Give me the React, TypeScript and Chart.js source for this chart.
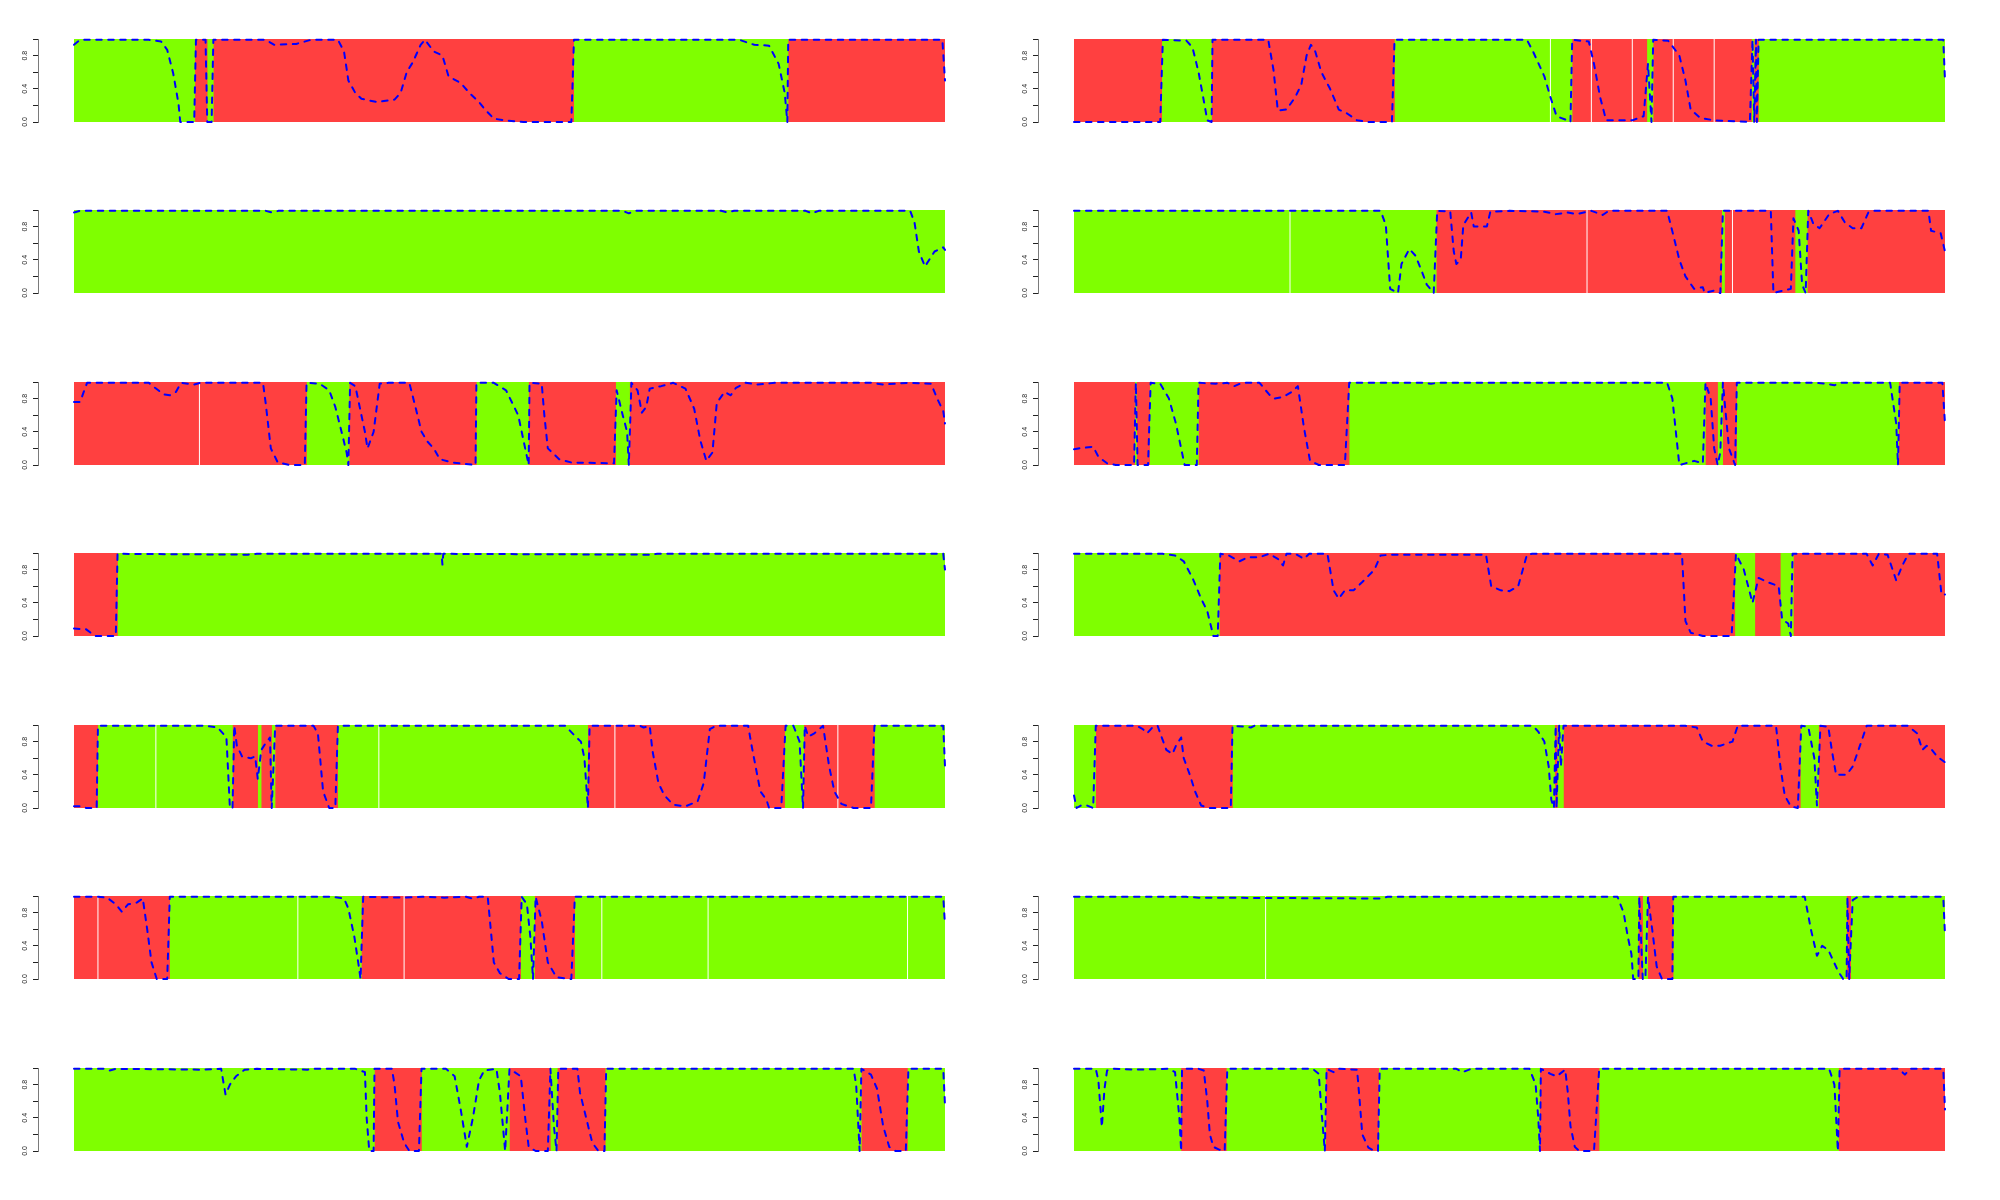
import React, { useEffect, useRef } from 'react';
import { Chart, registerables } from 'chart.js';
Chart.register(...registerables);

const GREEN = '#7FFF00';
const RED = '#FF4040';
const CURVE_COLOR = '#0000FF';
const AXIS_COLOR = '#7A7A7A';
const TICK_COLOR = '#222222';

// ---- Row 1 left ----
const A1_BREAKS = [0, 13.9, 15.3, 16.0, 57.4, 82.0, 100];
const A1_STATES = ['G', 'R', 'G', 'R', 'G', 'R'];
const A1_SEPS: number[] = [];
const A1_CURVE = [[0,0.93],[0.7,0.99],[8.6,0.99],[10,0.97],[10.7,0.87],[11.4,0.58],[12,0.22],[12.2,0],[13.8,0],[14,0.99],[15.1,0.99],[15.3,0],[15.8,0],[16,0.99],[21.3,0.99],[22,0.99],[23,0.93],[25.5,0.94],[27.2,0.99],[30.3,0.99],[31,0.85],[31.5,0.5],[32.3,0.35],[33,0.28],[34.8,0.24],[36.8,0.27],[37.5,0.35],[38.2,0.6],[38.9,0.72],[39.8,0.93],[40.3,0.99],[41.3,0.85],[42.3,0.8],[43,0.55],[44.4,0.47],[45.4,0.35],[46.5,0.24],[47.2,0.15],[48.2,0.04],[49.5,0.02],[51.6,0],[57.1,0],[57.4,0.99],[76.4,0.99],[78.1,0.93],[79.8,0.92],[80.9,0.7],[81.6,0.35],[81.9,0],[82,0.99],[99.7,0.99],[100,0.5]];

// ---- Row 1 right ----
const B1_BREAKS = [0, 10.1, 15.8, 36.8, 57.2, 65.8, 66.5, 77.8, 78.1, 78.6, 100];
const B1_STATES = ['R', 'G', 'R', 'G', 'R', 'G', 'R', 'G', 'R', 'G'];
const B1_SEPS = [54.7, 59.4, 64.1, 68.8, 73.5];
const B1_CURVE = [[0,0],[9.9,0],[10.2,0.99],[12.9,0.98],[13.6,0.9],[14.3,0.6],[15,0.2],[15.3,0.02],[15.8,0],[15.9,0.99],[22.3,0.99],[22.9,0.63],[23.4,0.14],[24.4,0.15],[25.4,0.3],[26.1,0.45],[26.7,0.8],[27.2,0.93],[27.7,0.85],[28.4,0.6],[29.4,0.4],[30.4,0.15],[31.4,0.1],[32.5,0.02],[33.8,0],[36.5,0],[36.8,0.99],[52,0.99],[52.7,0.85],[54,0.55],[54.7,0.3],[55.4,0.07],[56.4,0.03],[57,0],[57.2,0.99],[59.1,0.97],[59.7,0.7],[60.4,0.3],[61.1,0.02],[64.1,0.02],[65.4,0.07],[65.9,0.7],[66.3,0],[66.5,0.99],[68.2,0.98],[68.8,0.9],[69.5,0.8],[70.2,0.5],[70.8,0.15],[71.9,0.05],[73.5,0.02],[77.6,0],[77.9,0.99],[78.1,0],[78.3,0.99],[78.4,0],[78.6,0.99],[99.8,0.99],[100,0.5]];

// ---- Row 2 left ----
const A2_BREAKS = [0, 100];
const A2_STATES = ['G'];
const A2_SEPS: number[] = [];
const A2_CURVE = [[0,0.97],[0.7,0.99],[22,0.99],[22.7,0.97],[23.5,0.99],[63,0.99],[63.7,0.96],[64.5,0.99],[74.3,0.99],[75,0.97],[75.8,0.99],[84,0.99],[84.7,0.96],[85.5,0.99],[96,0.99],[96.5,0.85],[97,0.5],[97.7,0.32],[98.8,0.5],[99.8,0.55],[100,0.52]];

// ---- Row 2 right ----
const B2_BREAKS = [0, 41.6, 74.4, 74.7, 82.8, 84.2, 100];
const B2_STATES = ['G', 'R', 'G', 'R', 'G', 'R'];
const B2_SEPS = [24.8, 58.9, 75.6];
const B2_CURVE = [[0,0.99],[35.2,0.99],[35.8,0.82],[36.3,0.05],[37.2,0],[37.6,0.35],[38.5,0.53],[39.2,0.45],[39.9,0.27],[40.5,0.1],[41.3,0],[41.7,0.99],[43.2,0.98],[43.6,0.5],[43.9,0.35],[44.4,0.4],[44.7,0.82],[45.6,0.97],[45.9,0.8],[46.7,0.8],[47.4,0.8],[47.8,0.98],[50,0.99],[54,0.98],[55.3,0.95],[56.7,0.97],[57.7,0.95],[59.4,0.99],[60.7,0.94],[61.4,0.99],[68.1,0.99],[68.8,0.7],[69.5,0.4],[70.2,0.2],[71.2,0.05],[72.2,0.07],[72.4,0],[73.5,0.03],[74.2,0],[74.5,0.99],[80,0.99],[80.3,0],[82.3,0.05],[82.6,0.9],[83.2,0.75],[83.6,0.1],[84,0],[84.3,0.99],[84.9,0.83],[85.6,0.78],[86.7,0.95],[87.7,0.99],[88.5,0.85],[89.4,0.78],[90.4,0.78],[91.2,0.97],[91.7,0.99],[98.1,0.99],[98.4,0.75],[99.5,0.72],[100,0.5]];

// ---- Row 3 left ----
const A3_BREAKS = [0, 26.7, 31.6, 46.2, 52.2, 62.2, 63.8, 100];
const A3_STATES = ['R', 'G', 'R', 'G', 'R', 'G', 'R'];
const A3_SEPS = [14.4];
const A3_CURVE = [[0,0.76],[0.7,0.76],[1.5,0.99],[8.6,0.99],[9.3,0.93],[10.3,0.85],[11,0.84],[11.7,0.88],[12.3,0.99],[13.8,0.97],[14.5,0.99],[21.7,0.99],[22,0.75],[22.6,0.2],[23.4,0.03],[24.8,0],[26.5,0],[26.7,0.99],[28.2,0.98],[29.3,0.9],[30,0.7],[30.6,0.45],[31.3,0.15],[31.5,0],[31.7,0.99],[32.3,0.95],[33,0.6],[33.4,0.4],[33.7,0.2],[34.4,0.4],[35.1,0.98],[36.1,0.99],[38.5,0.99],[39.2,0.7],[39.9,0.4],[40.6,0.28],[41.3,0.2],[42,0.07],[43.4,0.03],[46.1,0],[46.2,0.99],[48.2,0.99],[49.6,0.9],[51,0.6],[51.6,0.3],[52.2,0],[52.3,0.99],[53.7,0.98],[54,0.6],[54.4,0.2],[55.7,0.07],[57.1,0.03],[62,0.02],[62.3,0.9],[63,0.6],[63.5,0.4],[63.7,0],[64,0.99],[64.7,0.9],[65.2,0.63],[65.7,0.7],[66.1,0.92],[67.4,0.95],[68.8,0.99],[70.2,0.92],[71.2,0.68],[71.9,0.3],[72.6,0.05],[73.3,0.15],[73.8,0.75],[74.7,0.88],[75.4,0.84],[76,0.93],[77.1,0.99],[78.5,0.97],[80.5,0.99],[91.5,0.99],[92.9,0.97],[94.3,0.98],[95.7,0.99],[98.4,0.98],[99.1,0.8],[99.8,0.65],[100,0.5]];

// ---- Row 3 right ----
const B3_BREAKS = [0, 7.0, 7.2, 8.7, 14.3, 31.6, 72.5, 73.9, 74.5, 76.1, 94.7, 100];
const B3_STATES = ['R', 'G', 'R', 'G', 'R', 'G', 'R', 'G', 'R', 'G', 'R'];
const B3_SEPS: number[] = [];
const B3_CURVE = [[0,0.19],[0.5,0.2],[2.2,0.22],[2.8,0.1],[3.8,0.02],[4.8,0],[6.9,0],[7.1,0.99],[7.3,0],[8.5,0],[8.8,0.99],[9.9,0.98],[10.9,0.8],[11.7,0.5],[12.3,0.2],[12.7,0],[14.1,0],[14.3,0.99],[16.3,0.98],[17.6,0.99],[18.4,0.95],[19.3,0.99],[21.3,0.99],[22.4,0.85],[23,0.8],[24,0.82],[25,0.88],[25.7,0.95],[26.4,0.45],[27.1,0.05],[28.1,0],[31.1,0],[31.6,0.99],[40,0.99],[41,0.98],[42,0.99],[68.1,0.99],[68.7,0.8],[69.2,0.3],[69.5,0],[70.2,0.02],[71.2,0.05],[72.2,0.02],[72.5,0.99],[73.1,0.8],[73.5,0.2],[73.9,0],[74.2,0.15],[74.5,0.99],[75.2,0.2],[75.9,0],[76.1,0.99],[85,0.99],[86.3,0.98],[87.3,0.96],[88,0.99],[93.7,0.99],[94.4,0.5],[94.6,0],[94.8,0.99],[99.7,0.99],[100,0.5]];

// ---- Row 4 left ----
const A4_BREAKS = [0, 5.0, 100];
const A4_STATES = ['R', 'G'];
const A4_SEPS: number[] = [];
const A4_CURVE = [[0,0.09],[1.4,0.08],[2.4,0],[4.8,0],[5.0,0.99],[20,0.98],[21,0.99],[42.2,0.99],[42.3,0.86],[42.4,0.99],[66,0.98],[67,0.99],[99.8,0.99],[100,0.8]];

// ---- Row 4 right ----
const B4_BREAKS = [0, 16.7, 75.9, 78.2, 81.1, 82.6, 100];
const B4_STATES = ['G', 'R', 'G', 'R', 'G', 'R'];
const B4_SEPS: number[] = [];
const B4_CURVE = [[0,0.99],[10.2,0.99],[11.6,0.97],[12.6,0.9],[13.6,0.7],[14.6,0.45],[15.3,0.3],[16,0],[16.5,0],[16.8,0.99],[17.6,0.98],[19,0.9],[20,0.95],[21.3,0.95],[22.4,0.99],[23.4,0.93],[24,0.85],[24.4,0.99],[25.4,0.99],[26.4,0.93],[27,0.99],[29.1,0.99],[29.8,0.55],[30.4,0.45],[31.1,0.55],[32.1,0.55],[33.1,0.65],[34.5,0.8],[35.2,0.97],[36.5,0.98],[45.9,0.98],[47.3,0.98],[47.9,0.6],[49,0.55],[50,0.54],[51,0.6],[52,0.98],[52.6,0.99],[69.8,0.99],[70.2,0.18],[70.8,0.04],[72.2,0],[75.5,0],[76,0.99],[76.9,0.8],[77.9,0.4],[78.6,0.7],[79.6,0.65],[80.9,0.6],[81.3,0.2],[82,0.15],[82.3,0],[82.5,0.99],[91,0.99],[91.7,0.85],[92.4,0.99],[93.4,0.98],[94.4,0.67],[95.1,0.85],[95.8,0.99],[99.1,0.99],[99.6,0.5],[100,0.5]];

// ---- Row 5 left ----
const A5_BREAKS = [0, 2.75, 18.2, 21.1, 21.5, 22.7, 23.1, 30.3, 59.0, 81.6, 83.8, 91.9, 100];
const A5_STATES = ['R', 'G', 'R', 'G', 'R', 'G', 'R', 'G', 'R', 'G', 'R', 'G'];
const A5_SEPS = [9.4, 35.0, 62.1, 87.7];
const A5_CURVE = [[0,0.02],[0.7,0.02],[1.4,0],[2.6,0],[2.75,0.99],[15.1,0.99],[16.5,0.97],[17.5,0.85],[17.9,0],[18.2,0],[18.4,0.99],[18.7,0.75],[19.3,0.62],[20.3,0.6],[20.8,0.62],[21.1,0.35],[21.5,0.7],[22,0.78],[22.5,0.85],[22.7,0],[23.1,0.99],[27.5,0.99],[28,0.9],[28.6,0.2],[29.3,0],[30,0],[30.3,0.99],[56.4,0.99],[57.5,0.87],[58.2,0.8],[58.6,0.6],[59,0],[59.2,0.99],[65,0.99],[65.4,0.97],[66.1,0.99],[66.4,0.7],[67.1,0.3],[67.8,0.15],[68.8,0.04],[70.2,0.02],[71.6,0.08],[72.3,0.3],[73,0.95],[73.7,0.99],[77.4,0.99],[77.8,0.75],[78.8,0.2],[79.5,0.1],[79.8,0],[81.2,0],[81.7,0.99],[82.6,0.99],[83.3,0.8],[83.7,0],[83.9,0.99],[84.3,0.86],[85,0.9],[86,0.99],[86.7,0.5],[87.3,0.2],[88.1,0.05],[89.5,0],[91.5,0],[91.9,0.99],[99.8,0.99],[100,0.5]];

// ---- Row 5 right ----
const B5_BREAKS = [0, 2.5, 18.2, 55.2, 55.5, 56.2, 83.4, 85.5, 100];
const B5_STATES = ['G', 'R', 'G', 'R', 'G', 'R', 'G', 'R'];
const B5_SEPS: number[] = [];
const B5_CURVE = [[0,0.15],[0.3,0],[0.8,0.03],[1.5,0.03],[2.2,0],[2.5,0.99],[7.2,0.99],[7.9,0.95],[8.4,0.9],[9,0.97],[9.6,0.99],[9.9,0.9],[10.6,0.7],[11.3,0.65],[11.7,0.75],[12.3,0.85],[12.6,0.6],[13.3,0.4],[13.9,0.2],[14.6,0.03],[15.6,0],[18,0],[18.2,0.99],[19.7,0.98],[20.3,0.97],[20.7,0.99],[52.7,0.99],[53.3,0.92],[54,0.8],[54.5,0.5],[54.8,0.1],[55.1,0],[55.3,0.99],[55.4,0],[55.7,0.99],[55.9,0.5],[56.2,0.99],[70.2,0.99],[71.5,0.97],[72.2,0.8],[73.2,0.75],[74.2,0.75],[75.6,0.8],[76.2,0.99],[80.6,0.99],[81.1,0.5],[81.6,0.15],[82.3,0.02],[83.1,0],[83.5,0.99],[84.3,0.98],[85,0.6],[85.3,0.03],[85.7,0.99],[86.6,0.98],[87,0.7],[87.5,0.4],[88.7,0.4],[89.4,0.5],[90.4,0.8],[91,0.99],[95.7,0.99],[96.8,0.9],[97.4,0.7],[97.9,0.75],[98.5,0.7],[99.1,0.62],[100,0.55]];

// ---- Row 6 left ----
const A6_BREAKS = [0, 11.0, 33.0, 51.3, 52.9, 57.5, 100];
const A6_STATES = ['R', 'G', 'R', 'G', 'R', 'G'];
const A6_SEPS = [2.75, 25.7, 37.9, 60.6, 72.8, 95.7];
const A6_CURVE = [[0,0.99],[2.75,0.99],[3.8,0.98],[4.8,0.9],[5.5,0.81],[6.2,0.9],[7.2,0.92],[7.9,0.97],[8.4,0.6],[8.9,0.2],[9.5,0],[10.7,0],[11,0.99],[29.6,0.99],[31,0.97],[31.5,0.85],[32.2,0.5],[32.7,0.15],[32.9,0],[33.2,0.99],[37.9,0.98],[40,0.99],[42.5,0.98],[45,0.99],[45.7,0.97],[46.5,0.99],[47.5,0.99],[48.2,0.2],[48.9,0.07],[49.9,0],[51.1,0],[51.4,0.99],[52,0.9],[52.4,0.5],[52.7,0],[53,0.99],[53.7,0.7],[54.4,0.2],[55.4,0.02],[57.1,0],[57.5,0.99],[99.8,0.99],[100,0.65]];

// ---- Row 6 right ----
const B6_BREAKS = [0, 64.8, 65.3, 65.9, 68.8, 88.7, 89.2, 100];
const B6_STATES = ['G', 'R', 'G', 'R', 'G', 'R', 'G'];
const B6_SEPS = [22.0];
const B6_CURVE = [[0,0.99],[12.9,0.99],[14.3,0.98],[35.2,0.97],[36,0.99],[62.4,0.99],[63.1,0.8],[63.6,0.5],[64,0.3],[64.2,0],[64.8,0],[64.9,0.99],[65.3,0],[65.6,0],[65.9,0.99],[66.5,0.5],[66.9,0.15],[67.5,0],[68.7,0],[68.8,0.99],[83.9,0.99],[84.6,0.6],[85.3,0.28],[85.9,0.4],[86.6,0.35],[87.7,0.1],[88.3,0],[88.7,0],[88.8,0.99],[89,0],[89.4,0.95],[90,0.99],[99.8,0.99],[100,0.53]];

// ---- Row 7 left ----
const A7_BREAKS = [0, 34.5, 39.9, 50.0, 54.7, 55.5, 61.0, 90.4, 95.7, 100];
const A7_STATES = ['G', 'R', 'G', 'R', 'G', 'R', 'G', 'R', 'G'];
const A7_SEPS: number[] = [];
const A7_CURVE = [[0,0.99],[3.4,0.99],[4.1,0.97],[4.8,0.99],[14.5,0.98],[16.9,0.99],[17.2,0.8],[17.4,0.68],[17.9,0.8],[18.6,0.9],[19.6,0.98],[21,0.99],[26.8,0.98],[27.5,0.99],[32.3,0.99],[33.4,0.95],[33.6,0.4],[33.9,0],[34.4,0],[34.5,0.99],[36.5,0.99],[36.8,0.8],[37.2,0.35],[37.9,0.1],[38.5,0],[39.6,0],[39.9,0.99],[42.7,0.99],[43.7,0.9],[44.4,0.5],[45.1,0.05],[45.8,0.4],[46.5,0.85],[47.1,0.97],[48.5,0.99],[48.9,0.7],[49.5,0],[50,0.99],[51.3,0.9],[51.8,0.4],[52.2,0.05],[53,0],[54.4,0],[54.7,0.99],[55.1,0.3],[55.4,0],[55.6,0.99],[57.8,0.99],[58.1,0.7],[58.8,0.4],[59.5,0.1],[60.2,0],[60.9,0],[61.1,0.99],[89.5,0.99],[89.8,0.8],[90.2,0],[90.4,0.99],[91.5,0.92],[92.2,0.75],[92.9,0.3],[93.6,0.05],[94.3,0],[95.5,0],[95.8,0.99],[99.8,0.99],[100,0.55]];

// ---- Row 7 right ----
const B7_BREAKS = [0, 12.3, 17.5, 28.9, 35.0, 53.5, 60.3, 87.8, 100];
const B7_STATES = ['G', 'R', 'G', 'R', 'G', 'R', 'G', 'R'];
const B7_SEPS: number[] = [];
const B7_CURVE = [[0,0.99],[2.5,0.99],[2.8,0.85],[3.2,0.29],[3.5,0.75],[3.8,0.97],[4.5,0.99],[6.9,0.98],[10.9,0.99],[11.6,0.95],[12.1,0.4],[12.3,0],[12.4,0.99],[14.3,0.99],[14.9,0.97],[15.3,0.6],[15.6,0.2],[16,0.05],[16.6,0.02],[17.3,0],[17.6,0.99],[27.4,0.99],[28.1,0.93],[28.4,0.5],[28.8,0],[29,0.99],[29.8,0.95],[30.4,0.99],[32.5,0.98],[32.8,0.6],[33.1,0.2],[33.8,0.04],[34.5,0],[34.9,0],[35.1,0.99],[43.9,0.99],[44.6,0.95],[45.6,0.99],[52.3,0.99],[53,0.8],[53.3,0.4],[53.5,0],[53.6,0.99],[54.7,0.93],[55.4,0.9],[56.4,0.98],[56.7,0.7],[57,0.3],[57.5,0.05],[58,0],[59.7,0],[60.3,0.99],[86.7,0.99],[87.3,0.8],[87.7,0],[87.9,0.99],[94.7,0.99],[95.4,0.92],[96,0.99],[99.8,0.99],[100,0.5]];

const Y_TICK_LABELS = ['0.0', '0.4', '0.8'];

const PANELS = [
  [A1_BREAKS, A1_STATES, A1_SEPS, A1_CURVE], [B1_BREAKS, B1_STATES, B1_SEPS, B1_CURVE],
  [A2_BREAKS, A2_STATES, A2_SEPS, A2_CURVE], [B2_BREAKS, B2_STATES, B2_SEPS, B2_CURVE],
  [A3_BREAKS, A3_STATES, A3_SEPS, A3_CURVE], [B3_BREAKS, B3_STATES, B3_SEPS, B3_CURVE],
  [A4_BREAKS, A4_STATES, A4_SEPS, A4_CURVE], [B4_BREAKS, B4_STATES, B4_SEPS, B4_CURVE],
  [A5_BREAKS, A5_STATES, A5_SEPS, A5_CURVE], [B5_BREAKS, B5_STATES, B5_SEPS, B5_CURVE],
  [A6_BREAKS, A6_STATES, A6_SEPS, A6_CURVE], [B6_BREAKS, B6_STATES, B6_SEPS, B6_CURVE],
  [A7_BREAKS, A7_STATES, A7_SEPS, A7_CURVE], [B7_BREAKS, B7_STATES, B7_SEPS, B7_CURVE],
] as any[];

const CELL_W = 1000;
const CELL_H = 172;
const PLOT_TOP = 39;
const PLOT_BOTTOM = 122;
const AXIS_X = 38;
const DATA_LEFT = 74;
const DATA_RIGHT = 945;
const X_MIN = -((DATA_LEFT - AXIS_X) / (DATA_RIGHT - DATA_LEFT)) * 100;

function Panel({ idx }: { idx: number }) {
  const ref = useRef<HTMLCanvasElement | null>(null);
  const [breaks, states, seps, curve] = PANELS[idx];
  const row = Math.floor(idx / 2);
  const col = idx % 2;
  useEffect(() => {
    if (!ref.current) return;
    const datasets: any[] = [];
    datasets.push({
      data: (curve as number[][]).map(([x, y]) => ({ x, y })),
      borderColor: CURVE_COLOR,
      borderWidth: 2,
      borderDash: [5.5, 6.5],
      borderCapStyle: 'round',
      borderJoinStyle: 'round',
      pointRadius: 0,
      pointHoverRadius: 0,
      fill: false,
      tension: 0,
      clip: false,
      order: 0,
    });
    (seps as number[]).forEach((s) => {
      datasets.push({
        data: [{ x: s, y: 0 }, { x: s, y: 1 }],
        borderColor: '#FFFFFF',
        borderWidth: 1,
        pointRadius: 0,
        pointHoverRadius: 0,
        fill: false,
        order: 1,
      });
    });
    (states as string[]).forEach((st, k) => {
      datasets.push({
        data: [{ x: breaks[k], y: 1 }, { x: 100, y: 1 }],
        borderColor: 'rgba(0,0,0,0)',
        borderWidth: 0,
        backgroundColor: st === 'G' ? GREEN : RED,
        fill: 'origin',
        pointRadius: 0,
        pointHoverRadius: 0,
        order: 100 - k,
      });
    });
    const chart = new Chart(ref.current, {
      type: 'line',
      data: { datasets },
      options: {
        responsive: false,
        maintainAspectRatio: false,
        animation: false,
        events: [],
        layout: { padding: { left: 0, right: CELL_W - DATA_RIGHT, top: PLOT_TOP, bottom: CELL_H - PLOT_BOTTOM } },
        plugins: { legend: { display: false }, tooltip: { enabled: false } },
        scales: {
          x: { type: 'linear', min: X_MIN, max: 100, display: false },
          y: {
            type: 'linear',
            min: 0,
            max: 1,
            position: 'left',
            afterFit: (s: any) => { s.width = AXIS_X; },
            ticks: {
              stepSize: 0.2,
              minRotation: 90,
              maxRotation: 90,
              crossAlign: 'center',
              padding: 3,
              color: TICK_COLOR,
              font: { size: 7, family: 'Liberation Sans' },
              callback: (v: any) => {
                const lbl = Number(v).toFixed(1);
                return Y_TICK_LABELS.includes(lbl) ? lbl : '';
              },
            },
            grid: { drawOnChartArea: false, drawTicks: true, tickLength: 5, color: TICK_COLOR, lineWidth: 1 },
            border: { display: true, color: AXIS_COLOR, width: 1 },
          },
        },
      } as any,
    });
    return () => chart.destroy();
  }, [idx]);
  return (
    <canvas
      ref={ref}
      width={CELL_W}
      height={CELL_H}
      style={{ position: 'absolute', left: col * CELL_W, top: Math.round((row * 1200) / 7), width: CELL_W, height: CELL_H, display: 'block' }}
    />
  );
}

export default function App() {
  return (
    <div style={{ position: 'absolute', left: 0, top: 0, width: 2000, height: 1200, background: '#FFFFFF', overflow: 'hidden' }}>
      {PANELS.map((_, i) => <Panel key={i} idx={i} />)}
    </div>
  );
}
